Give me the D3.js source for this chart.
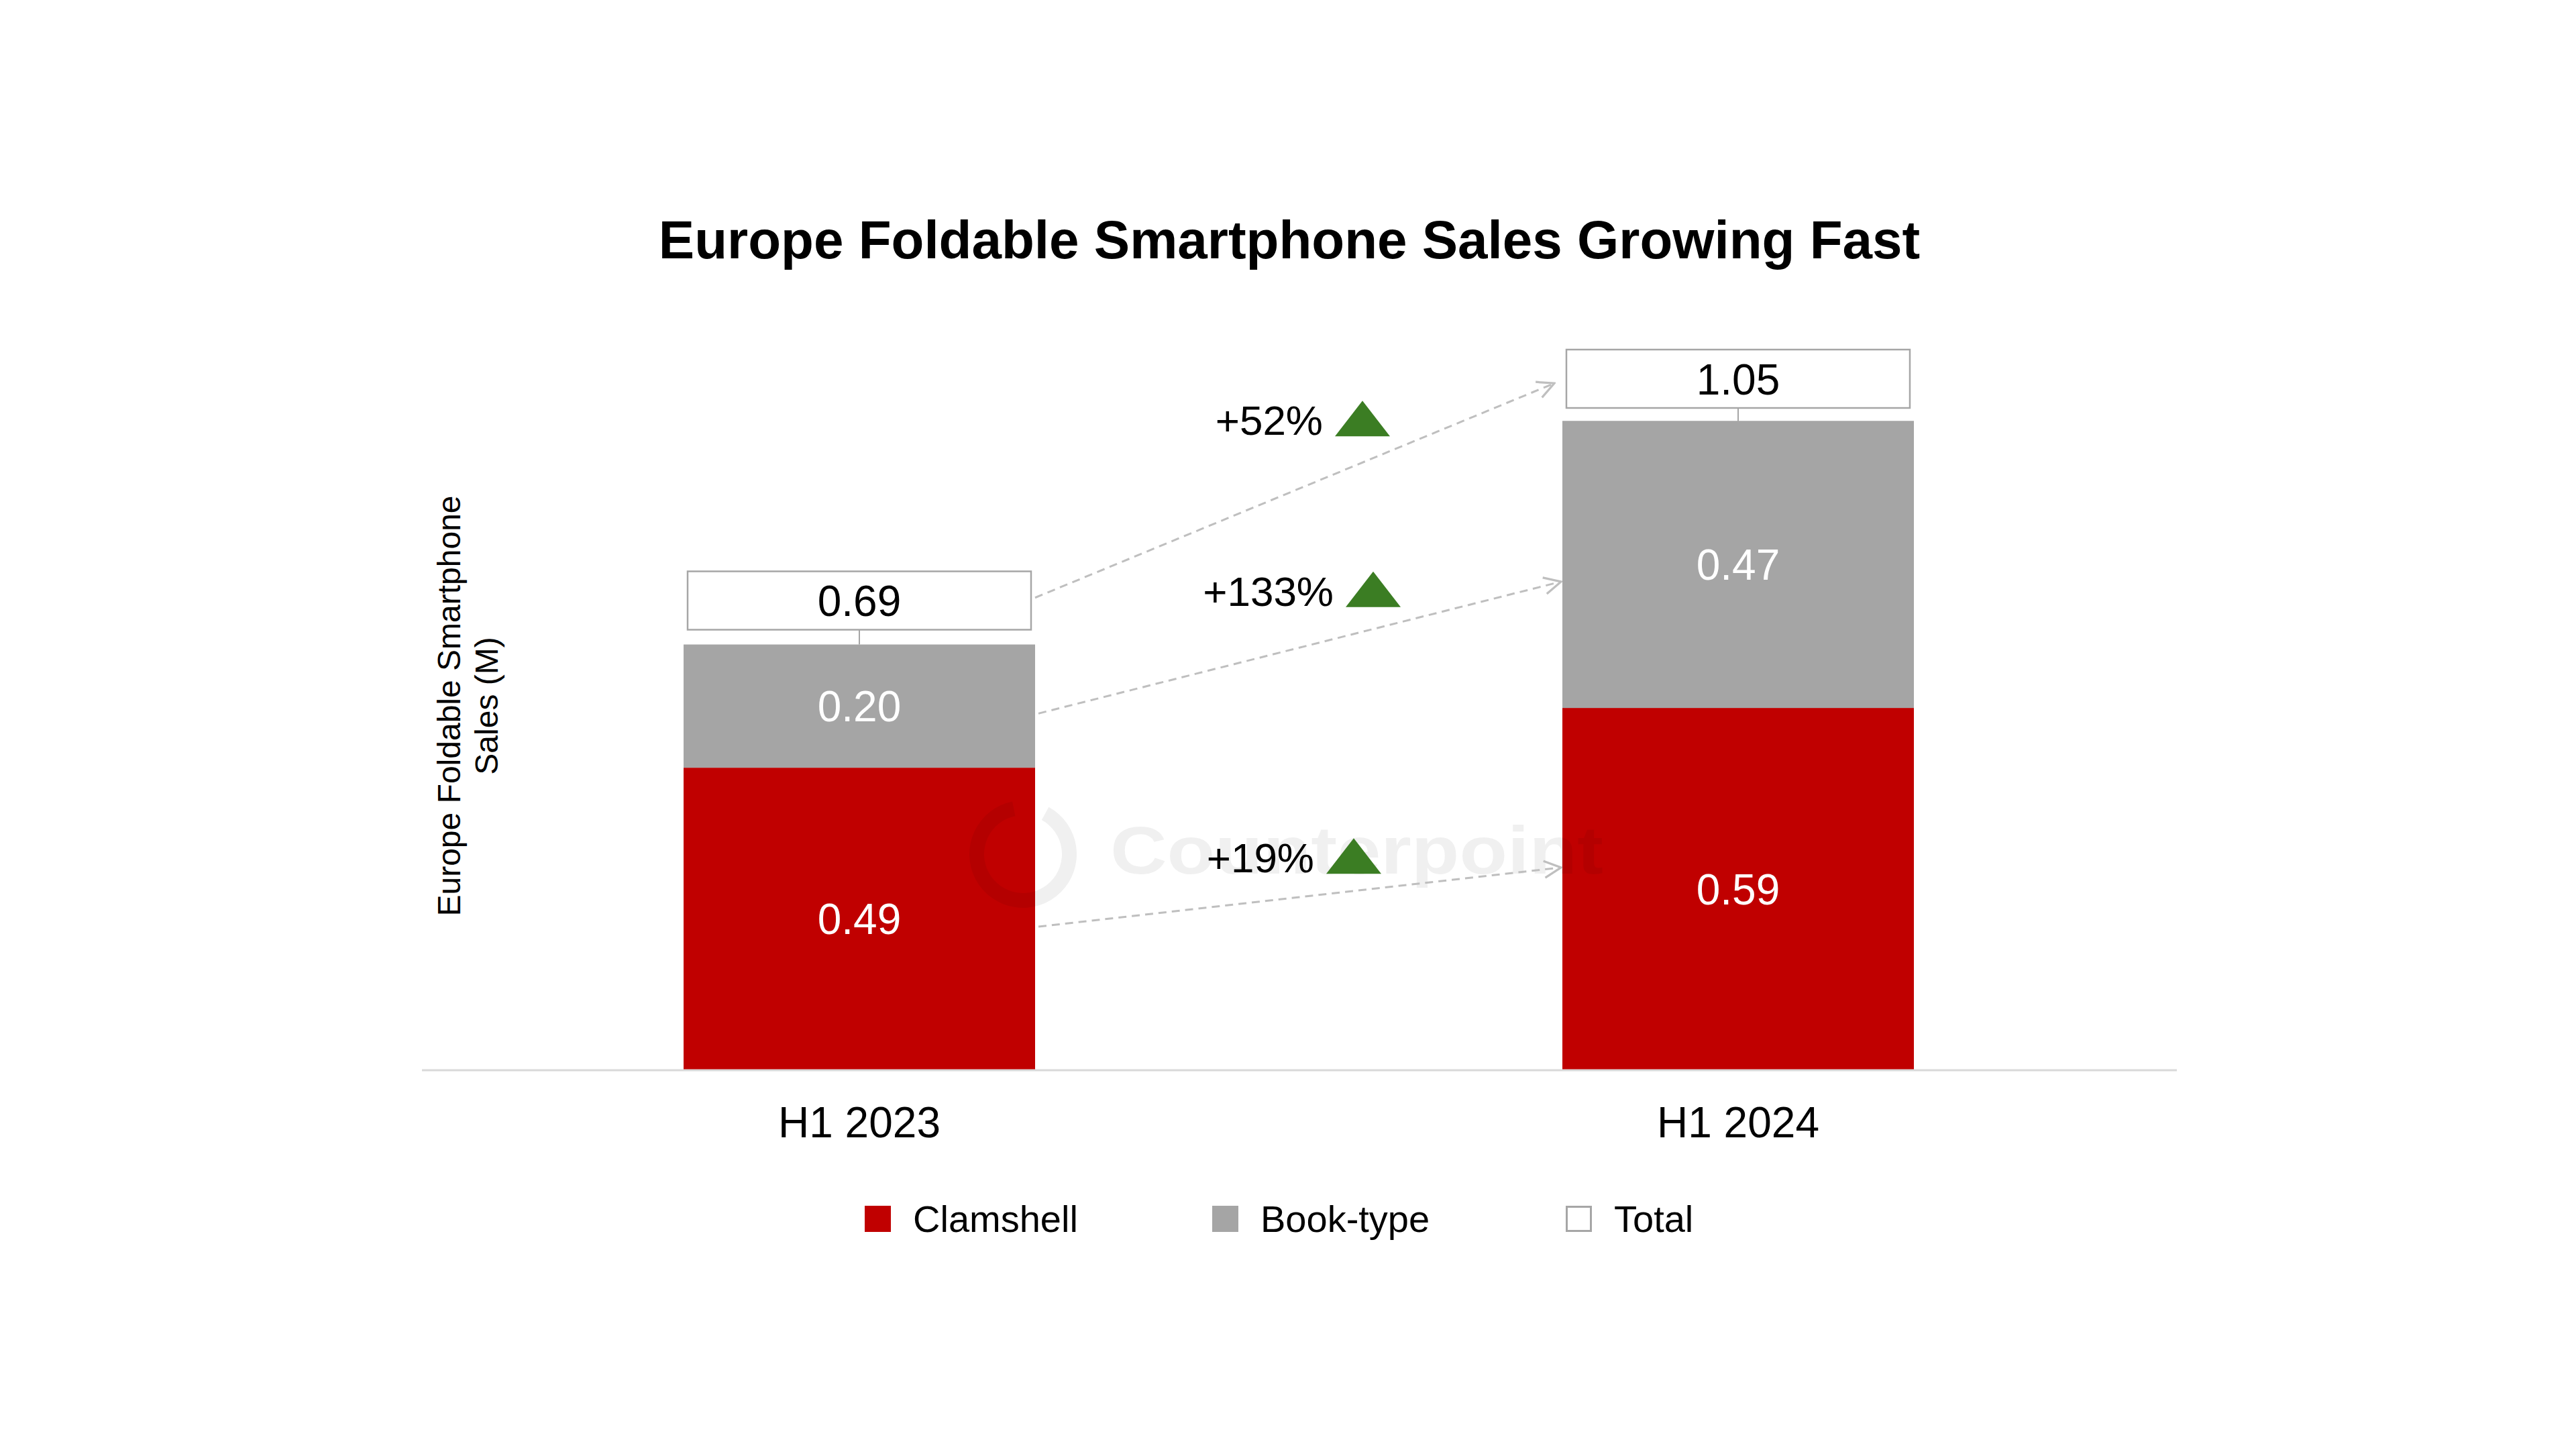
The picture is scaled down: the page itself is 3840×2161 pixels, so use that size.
<!DOCTYPE html>
<html>
<head>
<meta charset="utf-8">
<script src="https://cdn.jsdelivr.net/npm/d3@7"></script>
<style>
  html, body { margin: 0; padding: 0; background: #ffffff; }
  svg { display: block; }
  text { font-family: "Liberation Sans", Arial, Helvetica, sans-serif; }
</style>
</head>
<body>
<svg id="chart" width="3840" height="2161"></svg>
<script>
// ---------- data ----------
const categories = ["H1 2023", "H1 2024"];
const seriesNames = ["Clamshell", "Book-type"];
const clamshell = [0.49, 0.587];
const bookType = [0.20, 0.466];
const totals = [0.69, 1.05];
const growthLabels = ["+52%", "+133%", "+19%"];
// arrow anchor values (in sales units) : [from, to]
const arrowFrom = [0.766, 0.578, 0.232];
const arrowTo = [1.114, 0.792, 0.328];
// growth label baseline (in sales units)
const growthLabelAt = [1.03, 0.753, 0.32];
const legendNames = ["Clamshell", "Book-type", "Total"];

const colors = { "Clamshell": "#c00000", "Book-type": "#a5a5a5" };

// ---------- setup ----------
const svg = d3.select("#chart");
const W = 3840, H = 2161;
svg.append("rect").attr("width", W).attr("height", H).attr("fill", "#fff");

const x = d3.scaleBand().domain(categories).range([626, 3246]).paddingInner(0.6).paddingOuter(0.3);
const y = d3.scaleLinear().domain([0, 1.05]).range([1594, 630]);
const bw = x.bandwidth();

// stacked data
const rows = categories.map((c, i) => ({ cat: c, "Clamshell": clamshell[i], "Book-type": bookType[i], total: totals[i] }));
const stack = d3.stack().keys(seriesNames)(rows);

// title
svg.append("text")
  .attr("x", 1922).attr("y", 385)
  .attr("text-anchor", "middle")
  .attr("font-size", 80).attr("font-weight", "bold").attr("fill", "#000")
  .text("Europe Foldable Smartphone Sales Growing Fast");

// y-axis title
const yt = svg.append("text")
  .attr("transform", `translate(0,${(y(0) + y(1.05)) / 2 - 60}) rotate(-90)`)
  .attr("text-anchor", "middle").attr("font-size", 48).attr("fill", "#000");
yt.append("tspan").attr("x", 0).attr("y", 686).text("Europe Foldable Smartphone");
yt.append("tspan").attr("x", 0).attr("y", 742).text("Sales (M)");

// bars
const layers = svg.append("g").selectAll("g").data(stack).join("g")
  .attr("fill", d => colors[d.key]);
layers.selectAll("rect").data(d => d).join("rect")
  .attr("x", d => x(d.data.cat))
  .attr("width", bw)
  .attr("y", d => y(d[1]))
  .attr("height", d => y(d[0]) - y(d[1]));

// watermark
const wm = svg.append("g").attr("opacity", 0.06);
wm.append("path")
  .attr("d", d3.arc().innerRadius(58).outerRadius(80).startAngle(0.5).endAngle(2 * Math.PI - 0.2)())
  .attr("transform", "translate(1525,1273)")
  .attr("fill", "#000");
wm.append("text").attr("x", 1655).attr("y", 1302)
  .attr("font-size", 100).attr("font-weight", "bold").attr("fill", "#000")
  .attr("textLength", 735).attr("lengthAdjust", "spacingAndGlyphs")
  .text("Counterpoint");

// baseline axis
svg.append("line")
  .attr("x1", 629).attr("x2", 3245)
  .attr("y1", y(0) + 1).attr("y2", y(0) + 1)
  .attr("stroke", "#d9d9d9").attr("stroke-width", 3);

// x axis labels
const xAxis = d3.axisBottom(x).tickSize(0).tickPadding(0);
const gx = svg.append("g").attr("transform", `translate(0,${y(0)})`).call(xAxis);
gx.select(".domain").remove();
gx.selectAll("text")
  .attr("font-size", 64).attr("fill", "#000")
  .attr("font-family", "Liberation Sans, Arial, sans-serif")
  .attr("dy", null).attr("y", 101);

// segment value labels
layers.selectAll("text.val").data(d => d).join("text")
  .attr("class", "val")
  .attr("x", d => x(d.data.cat) + bw / 2)
  .attr("y", d => (y(d[0]) + y(d[1])) / 2 + 23)
  .attr("text-anchor", "middle").attr("font-size", 64).attr("fill", "#fff")
  .text(d => (d[1] - d[0]).toFixed(2));

// total boxes
const boxW = 512, boxH = 87, gap = 22;
const tg = svg.append("g").selectAll("g").data(rows).join("g");
tg.append("line")
  .attr("x1", d => x(d.cat) + bw / 2).attr("x2", d => x(d.cat) + bw / 2)
  .attr("y1", d => y(d.total) - gap).attr("y2", d => y(d.total))
  .attr("stroke", "#a6a6a6").attr("stroke-width", 2);
tg.append("rect")
  .attr("x", d => x(d.cat) + bw / 2 - boxW / 2)
  .attr("y", d => y(d.total) - gap - boxH)
  .attr("width", boxW).attr("height", boxH)
  .attr("fill", "#fff").attr("stroke", "#a6a6a6").attr("stroke-width", 2.5);
tg.append("text")
  .attr("x", d => x(d.cat) + bw / 2)
  .attr("y", d => y(d.total) - gap - boxH / 2 + 23)
  .attr("text-anchor", "middle").attr("font-size", 64).attr("fill", "#000")
  .text(d => d.total.toFixed(2));

// arrows
svg.append("defs").append("marker")
  .attr("id", "chev").attr("viewBox", "0 0 12 12")
  .attr("refX", 11).attr("refY", 6)
  .attr("markerWidth", 30).attr("markerHeight", 30)
  .attr("markerUnits", "userSpaceOnUse")
  .attr("orient", "auto")
  .append("path").attr("d", "M1,1 L11,6 L1,11")
  .attr("fill", "none").attr("stroke", "#bfbfbf").attr("stroke-width", 1.3);

const x0r = x(categories[0]) + bw, x1l = x(categories[1]);
const startX = [x0r, x0r + 5, x0r + 5];
const endX = [x1l - 12, x1l - 2, x1l - 2];
svg.append("g").selectAll("line").data(arrowFrom).join("line")
  .attr("x1", (d, i) => startX[i]).attr("y1", d => y(d))
  .attr("x2", (d, i) => endX[i]).attr("y2", (d, i) => y(arrowTo[i]))
  .attr("stroke", "#bfbfbf").attr("stroke-width", 3)
  .attr("stroke-dasharray", "12,8")
  .attr("marker-end", "url(#chev)");

// growth labels
const mid = (x(categories[0]) + bw / 2 + x(categories[1]) + bw / 2) / 2;
const labelEndOffset = [36, 52, 23];
const gl = svg.append("g").selectAll("g").data(growthLabels).join("g")
  .attr("transform", (d, i) => `translate(${mid + labelEndOffset[i]},${y(growthLabelAt[i])})`);
gl.append("text")
  .attr("text-anchor", "end").attr("font-size", 62).attr("fill", "#000")
  .text(d => d);
gl.append("path")
  .attr("d", "M18,2 L100,2 L59,-51 Z")
  .attr("fill", "#3b7d23");

// legend
const legendX = [1289, 1807, 2334];
const lg = svg.append("g").selectAll("g").data(legendNames).join("g")
  .attr("transform", (d, i) => `translate(${legendX[i]},1797)`);
lg.append("rect")
  .attr("x", d => d === "Total" ? 1.5 : 0).attr("y", d => d === "Total" ? 1.5 : 0)
  .attr("width", d => d === "Total" ? 36 : 39).attr("height", d => d === "Total" ? 36 : 39)
  .attr("fill", d => colors[d] || "#fff")
  .attr("stroke", d => d === "Total" ? "#a6a6a6" : "none").attr("stroke-width", 3);
lg.append("text")
  .attr("x", 72).attr("y", 39)
  .attr("font-size", 56).attr("fill", "#000")
  .text(d => d);
</script>
</body>
</html>
